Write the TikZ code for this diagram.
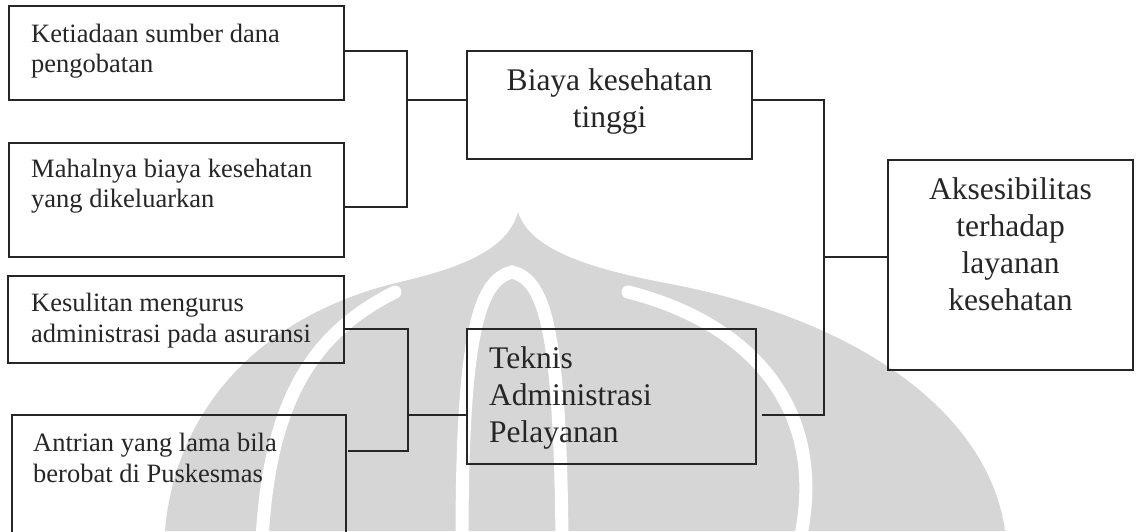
\documentclass[tikz,border=0pt]{standalone}
\usepackage{fontspec}
\setmainfont{Liberation Serif}
\usetikzlibrary{calc}
\tikzset{
  box/.style={draw=black!85, line width=1.6pt, inner sep=0pt, outer sep=0pt, anchor=north west},
  smalltext/.style={font=\fontsize{26.5}{30.5}\selectfont, align=left, inner sep=0pt, anchor=base west, text=black!85},
  bigtext/.style={font=\fontsize{31.5}{36.8}\selectfont, inner sep=0pt, anchor=base, text=black!85},
  wire/.style={draw=black!85, line width=1.6pt},
  wmfill/.style={fill=black!16},
  wmband/.style={draw=white, line width=13pt, line cap=round}
}
\begin{document}
\begin{tikzpicture}[x=1pt,y=-1pt]
\useasboundingbox (0,0) rectangle (1137,531);
\clip (0,0) rectangle (1137,531);
\fill[white] (0,0) rectangle (1137,531);

% faint emblem behind the chart
\fill[wmfill] (518,212) .. controls (508,250) and (460,268) .. (400,282)
  .. controls (260,315) and (175,410) .. (165,531) -- (1005,531)
  .. controls (990,420) and (870,320) .. (660,282)
  .. controls (590,268) and (530,250) .. (518,212) -- cycle;
\draw[wmband] (395,292) .. controls (320,330) and (270,390) .. (262,540);
\draw[wmband] (462,540) .. controls (462,330) and (480,280) .. (512,272)
  .. controls (545,280) and (560,330) .. (562,540);
\draw[wmband] (628,292) .. controls (740,320) and (830,400) .. (800,540);

% boxes
\node[box, minimum width=335pt, minimum height=94pt]  (k1) at (9,6) {};
\node[box, minimum width=335pt, minimum height=114pt] (k2) at (9,143) {};
\node[box, minimum width=336pt, minimum height=87pt]  (k3) at (8,276) {};
\node[box, minimum width=334pt, minimum height=130pt] (k4) at (12,415) {};
\node[box, minimum width=285pt, minimum height=108pt] (b)  at (467,51) {};
\node[box, minimum width=289pt, minimum height=135pt] (t)  at (467,329) {};
\node[box, minimum width=245pt, minimum height=210pt] (a)  at (888,160) {};

% labels (anchored at the baseline of their last line)
\node[smalltext] (k1t) at (31,72.5)  {Ketiadaan sumber dana\\pengobatan};
\node[smalltext] (k2t) at (31,207.5) {Mahalnya biaya kesehatan\\yang dikeluarkan};
\node[smalltext] (k3t) at (31,342)   {Kesulitan mengurus\\administrasi pada asuransi};
\node[smalltext] (k4t) at (33,482)   {Antrian yang lama bila\\berobat di Puskesmas};
\node[bigtext, align=center] (bt) at (609.5,127.5) {Biaya kesehatan\\tinggi};
\node[bigtext, align=left, anchor=base west] (tt) at (489,442) {Teknis\\Administrasi\\Pelayanan};
\node[bigtext, align=center] (at) at (1010.5,310) {Aksesibilitas\\terhadap\\layanan\\kesehatan};

% connectors
\coordinate (j1) at (407,100);
\coordinate (j2) at (824,257);
\coordinate (j3) at (408,415);
\draw[wire] ([yshift=2pt]k1.east) -| (j1) |- ([yshift=-7pt]k2.east);
\draw[wire] (j1) -- (j1 -| b.west);
\draw[wire] ([yshift=-9.5pt]k3.east) -| (j3) |- ([xshift=2pt,yshift=-36pt]k4.north east);
\draw[wire] (j3) -- (j3 -| t.west);
\draw[wire] (j1 -| b.east) -| (j2) |- ([xshift=6pt]t.east |- j3);
\draw[wire] (j2) -- (j2 -| a.west);
\end{tikzpicture}
\end{document}
